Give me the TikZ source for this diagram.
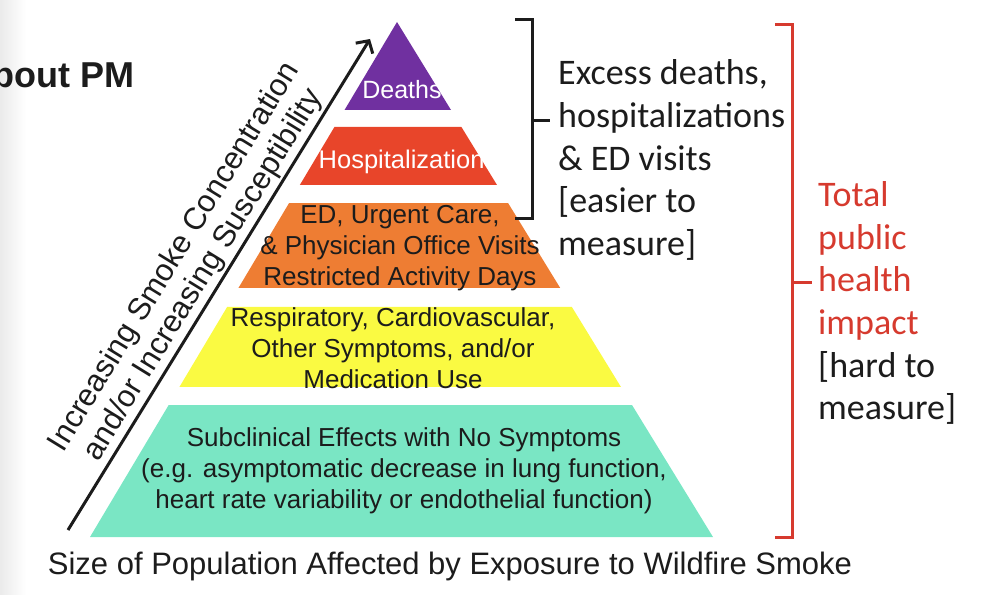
\documentclass[tikz,border=0pt]{standalone}
\usepackage{fontspec}
\setmainfont{Liberation Sans}
\newfontfamily\notefont{Carlito}
\usetikzlibrary{arrows.meta, positioning, calc}
\definecolor{cpurple}{HTML}{7030A0}
\definecolor{cred}{HTML}{E8452A}
\definecolor{corange}{HTML}{EE7D33}
\definecolor{cyellow}{HTML}{FAFA42}
\definecolor{cteal}{HTML}{7AE6C4}
\definecolor{cbrace}{HTML}{D63A2E}
\definecolor{cink}{HTML}{1C1C1C}
\tikzset{
  layertext/.style={text=cink, align=center, inner sep=0pt, font=\fontsize{26}{31}\selectfont},
  bracket/.style={draw=cink, line width=3pt},
  note/.style={font=\notefont\fontsize{36}{42.7}\selectfont, text=cink, align=left, inner sep=0pt},
  risk/.style={-{Straight Barb[length=9pt, width=20pt]}, draw=cink, line width=3pt},
}

\begin{document}
\begin{tikzpicture}[x=1pt, y=-1pt]
  \useasboundingbox (0,0) rectangle (998,594);
  \shade[left color=black!8, right color=white] (0,0) rectangle (26,594);
  \node[font=\bfseries\fontsize{36}{40}\selectfont, text=cink, anchor=base east, inner sep=0pt] (title) at (135,87) {bout PM};
  % pyramid
  \coordinate (apex) at (397,22);
  \coordinate (baseL) at (90,537);
  \coordinate (baseR) at (713,537);
  \foreach \ytop/\ybot/\col in {22/110/cpurple, 127/185/cred, 203/288/corange, 307/387/cyellow, 405/537/cteal}
    \fill[\col] ($(apex)!{(\ytop-22)/515}!(baseL)$) -- ($(apex)!{(\ytop-22)/515}!(baseR)$)
      -- ($(apex)!{(\ybot-22)/515}!(baseR)$) -- ($(apex)!{(\ybot-22)/515}!(baseL)$) -- cycle;
  \node[layertext, text=white, font=\fontsize{25}{30}\selectfont] (deaths) at (402,90) {Deaths};
  \node[layertext, text=white, font=\fontsize{25.5}{30}\selectfont] (hosp) at (408,162) {Hospitalizations};
  \node[layertext] (visits) at (400,248) {ED, Urgent Care,\\ \& Physician Office Visits\\ Restricted Activity Days};
  \node[layertext] (symptoms) at (393,348) {Respiratory, Cardiovascular,\\ Other Symptoms, and/or\\ Medication Use};
  \node[layertext] (subclin) at (404,471) {Subclinical Effects with No Symptoms\\ (e.g. asymptomatic decrease in lung function,\\ heart rate variability or endothelial function)};
  \node[font=\fontsize{31}{36}\selectfont, text=cink, inner sep=0pt] (population) at (450,566) {Size of Population Affected by Exposure to Wildfire Smoke};
  % rising arrow
  \coordinate (risklow) at (68,530);
  \coordinate (riskhigh) at (370,39);
  \draw[risk] (risklow) -- node[midway, sloped, above, align=center, inner sep=2pt, font=\fontsize{31}{34}\selectfont, text=cink] (risklabel) {Increasing Smoke Concentration\\ and/or Increasing Susceptibility} (riskhigh);
  % brackets
  \draw[bracket] (515,20) -- (532,20) -- (532,218) -- (515,218);
  \draw[bracket] (532,120) -- (550,120);
  \draw[bracket, draw=cbrace] (775,25) -- (792,25) -- (792,537) -- (775,537);
  \draw[bracket, draw=cbrace] (792,282) -- (812,282);
  \node[note, anchor=west] (easier) at (558,160) {Excess deaths,\\ hospitalizations\\ \& ED visits\\{}[easier to\\ measure]};
  \node[note, anchor=west] (total) at (818,303) {\textcolor{cbrace}{Total}\\ \textcolor{cbrace}{public}\\ \textcolor{cbrace}{health}\\ \textcolor{cbrace}{impact}\\{}[hard to\\ measure]};
\end{tikzpicture}
\end{document}
